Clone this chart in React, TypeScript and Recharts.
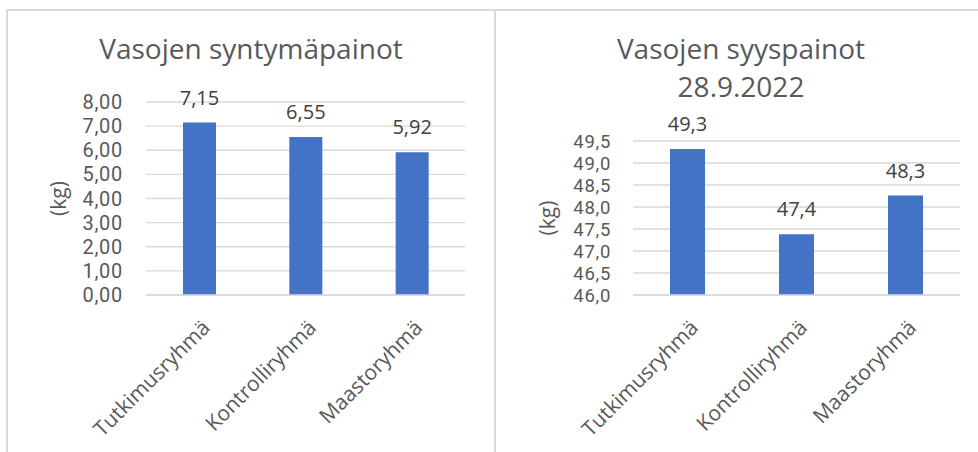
import React from 'react';
import { BarChart, Bar, XAxis, YAxis, CartesianGrid, LabelList } from 'recharts';

const categories = ['Tutkimusryhmä', 'Kontrolliryhmä', 'Maastoryhmä'];
const birthWeights = [7.15, 6.55, 5.92];
const autumnWeights = [49.32, 47.38, 48.26];
const birthTicks = [0, 1, 2, 3, 4, 5, 6, 7, 8];
const autumnTicks = [46, 46.5, 47, 47.5, 48, 48.5, 49, 49.5];

const FONT = '"Open Sans", sans-serif';
const TICK_FONT = 'Roboto, sans-serif';
const BLUE = '#4472C4';
const GRID = '#d9d9d9';
const AXIS_TEXT = '#595959';
const LABEL_TEXT = '#404040';

const birthData = categories.map((name, i) => ({ name, value: birthWeights[i] }));
const autumnData = categories.map((name, i) => ({ name, value: autumnWeights[i] }));

const fi = (v: number, d: number) => v.toFixed(d).replace('.', ',');

function RotatedTick(props: any) {
    const { x, y, payload } = props;
    return (
        <g transform={`translate(${x + 12},${y + 26})`}>
            <text textAnchor="end" transform="rotate(-45)" fill={AXIS_TEXT} fontSize={21} fontFamily={FONT}>
                {payload.value}
            </text>
        </g>
    );
}

function KgLabel(dx: number) {
    return (props: any) => {
        const vb = props.viewBox;
        const cx = vb.x + dx;
        const cy = vb.y + vb.height / 2;
        return (
            <text x={cx} y={cy} transform={`rotate(-90, ${cx}, ${cy})`} textAnchor="middle" dominantBaseline="central"
                fill={AXIS_TEXT} fontSize={21} fontFamily={FONT}>
                (kg)
            </text>
        );
    };
}

interface WeightChartProps {
    data: { name: string; value: number }[];
    ticks: number[];
    decimals: number;
    labelDecimals: number;
    width: number;
    margin: { top: number; right: number; left: number; bottom: number };
    tickGap: number;
    tickFont: number;
    barSize: number;
    labelDx: number;
}

function WeightChart({ data, ticks, decimals, labelDecimals, width, margin, tickGap, tickFont, barSize, labelDx }: WeightChartProps) {
    return (
        <BarChart width={width} height={452} data={data} margin={margin}>
            <CartesianGrid vertical={false} stroke={GRID} strokeWidth={1.4} />
            <XAxis dataKey="name" axisLine={{ stroke: GRID, strokeWidth: 1.4 }} tickLine={false} interval={0}
                height={157} tick={<RotatedTick />} />
            <YAxis domain={[ticks[0], ticks[ticks.length - 1]]} ticks={ticks} axisLine={false} tickLine={false}
                tickSize={0} tickMargin={tickGap} width={60} interval={0}
                tick={{ fill: AXIS_TEXT, fontSize: tickFont, fontFamily: TICK_FONT, letterSpacing: 0.7 }}
                tickFormatter={(v: number) => fi(v, decimals)}
                label={{ content: KgLabel(labelDx) }} />
            <Bar dataKey="value" fill={BLUE} barSize={barSize} isAnimationActive={false}>
                <LabelList dataKey="value" position="top" offset={18} fill={LABEL_TEXT} fontSize={20} fontFamily={FONT}
                    formatter={(v: any) => fi(Number(v), labelDecimals)} />
            </Bar>
        </BarChart>
    );
}

const titleStyle: React.CSSProperties = {
    position: 'absolute', textAlign: 'center', color: AXIS_TEXT, fontFamily: FONT, fontSize: 28, lineHeight: '38px',
};

export default function App() {
    return (
        <div style={{ position: 'absolute', left: 0, top: 0, width: 978, height: 452, overflow: 'hidden', background: '#fff' }}>
            <div style={{ position: 'absolute', left: 6, top: 9, width: 1000, height: 500, borderLeft: `2px solid ${GRID}`, borderTop: `2px solid ${GRID}` }} />
            <div style={{ position: 'absolute', left: 494, top: 9, width: 2, height: 500, background: GRID }} />

            <div style={{ position: 'absolute', left: 0, top: 0 }}>
                <WeightChart data={birthData} ticks={birthTicks} decimals={2} labelDecimals={2} width={494}
                    margin={{ top: 102, right: 29, left: 86, bottom: 0 }} tickGap={23} tickFont={20} barSize={33} labelDx={-28} />
            </div>
            <div style={{ position: 'absolute', left: 494, top: 0 }}>
                <WeightChart data={autumnData} ticks={autumnTicks} decimals={1} labelDecimals={1} width={484}
                    margin={{ top: 141, right: 18, left: 79, bottom: 0 }} tickGap={22} tickFont={18.5} barSize={35} labelDx={-26} />
            </div>

            <div style={{ ...titleStyle, left: 8, width: 486, top: 29 }}>Vasojen syntymäpainot</div>
            <div style={{ ...titleStyle, left: 496, width: 490, top: 29 }}>Vasojen syyspainot<br />28.9.2022</div>
        </div>
    );
}
